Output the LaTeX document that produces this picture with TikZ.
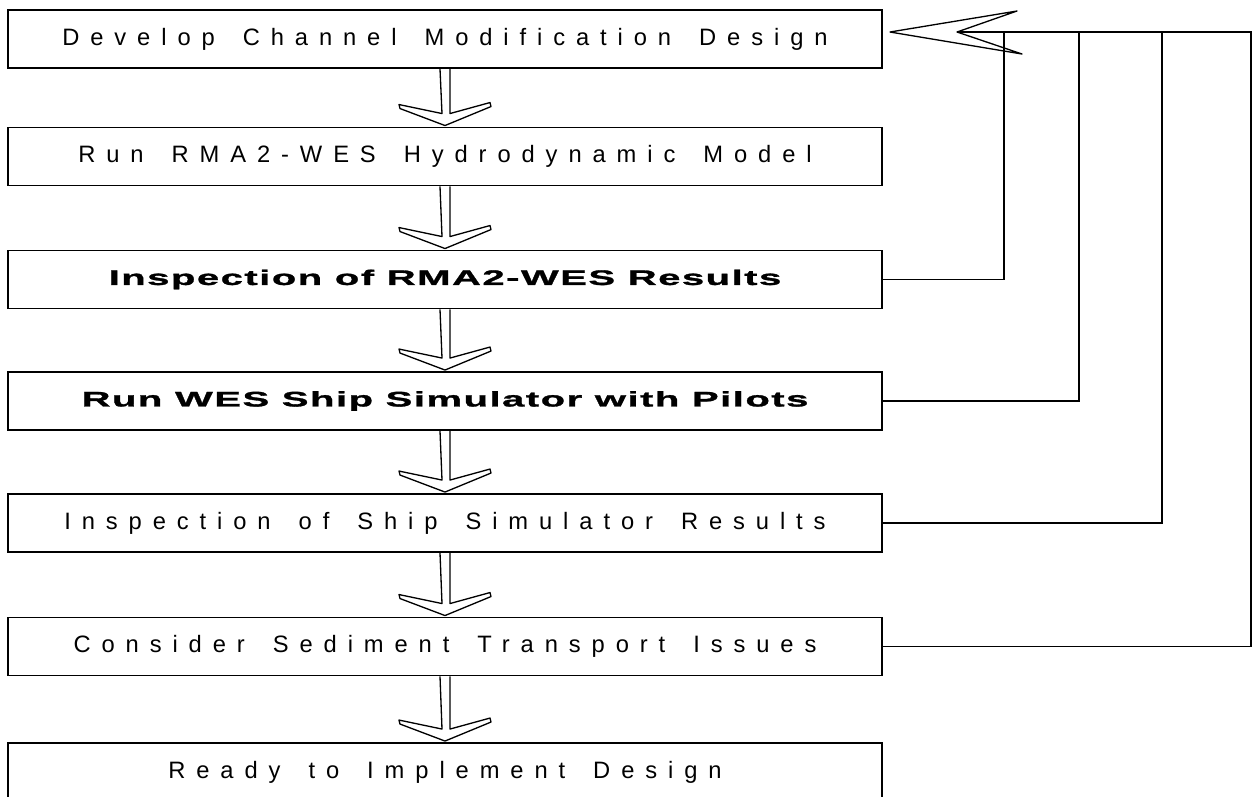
\documentclass[tikz,border=0pt]{standalone}
\usepackage{fontspec}
\setmainfont{Liberation Sans}
\newfontfamily\spacedfont[LetterSpace=46, WordSpace=1.6]{Liberation Sans}
\newfontfamily\widefont[FakeStretch=1.9, LetterSpace=7, FakeBold=1.4]{Liberation Sans}

% hollow down arrow between two stages
\newcommand{\flowarrow}[2]{%
  \draw[hollow] ([shift={(-5,0)}]#1.south) -- ([shift={(-3,-13)}]#2.north)
    -- ([shift={(-46,-22)}]#2.north) -- ([shift={(-45,-18)}]#2.north)
    -- ([shift={(0,-1)}]#2.north) -- ([shift={(46,-20)}]#2.north)
    -- ([shift={(45,-24)}]#2.north) -- ([shift={(5,-13)}]#2.north)
    -- ([shift={(5,0)}]#1.south);}

\begin{document}
\begin{tikzpicture}[
        x=0.02cm, y=-0.02cm,
        stage/.style={
            rectangle,
            draw,
            line width=1.1pt,
            minimum width=17.48cm,
            minimum height=1.16cm,
            inner sep=0pt,
            font=\spacedfont\fontsize{13.5}{15}\selectfont
        },
        boldstage/.style={
            stage,
            font=\widefont\bfseries\fontsize{12}{14}\selectfont
        },
        feedback/.style={line width=1.1pt},
        hollow/.style={draw, line width=0.75pt, line join=round}
    ]
        \useasboundingbox (0,0) rectangle (1257,796);

        \node[stage] (design) at (445,39) {Develop Channel Modification Design};
        \node[stage] (hydro) at (445,156.5) {Run RMA2-WES Hydrodynamic Model};
        \node[boldstage] (inspect) at (445,279.5) {Inspection of RMA2-WES Results};
        \node[boldstage] (simulate) at (445,401) {Run WES Ship Simulator with Pilots};
        \node[stage] (simres) at (445,523) {Inspection of Ship Simulator Results};
        \node[stage] (sediment) at (445,646.5) {Consider Sediment Transport Issues};
        \node[stage] (ready) at (445,772) {Ready to Implement Design};

        \flowarrow{design}{hydro}
        \flowarrow{hydro}{inspect}
        \flowarrow{inspect}{simulate}
        \flowarrow{simulate}{simres}
        \flowarrow{simres}{sediment}
        \flowarrow{sediment}{ready}

        % feedback rail
        \coordinate (tip) at (890,32);
        \coordinate (notch) at (957,32);
        \coordinate (rail1) at (1004,32);
        \coordinate (rail2) at (1079,32);
        \coordinate (rail3) at (1162,32);
        \coordinate (rail4) at (1251,32);

        \draw[feedback] (inspect.east) -| (rail1);
        \draw[feedback] (simulate.east) -| (rail2);
        \draw[feedback] (simres.east) -| (rail3);
        \draw[feedback] (sediment.east) -| (rail4) -- (notch);
        \draw[hollow] (tip) -- (1017,11) -- (notch) -- (1022,54) -- cycle;

    \end{tikzpicture}
\end{document}
